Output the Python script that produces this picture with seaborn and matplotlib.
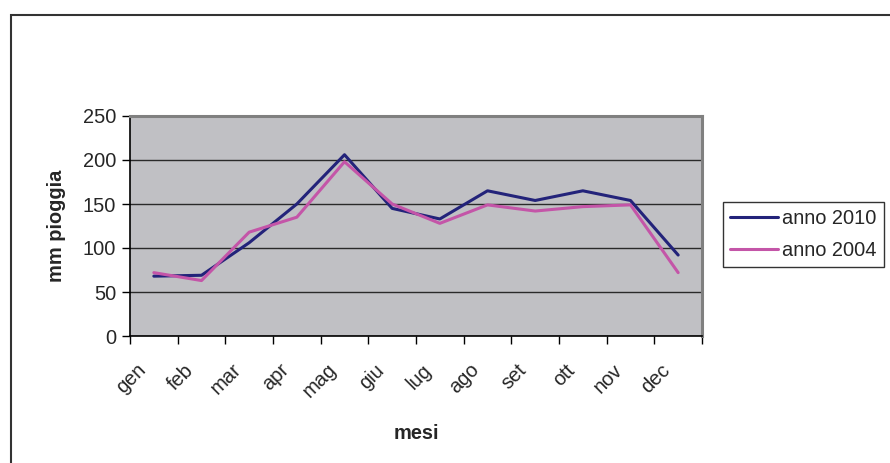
import matplotlib
matplotlib.use("Agg")
import matplotlib.pyplot as plt
from matplotlib.patches import Rectangle
from matplotlib.ticker import FixedLocator, NullFormatter
from matplotlib.transforms import ScaledTranslation
import seaborn as sns
import pandas as pd

mesi = ["gen", "feb", "mar", "apr", "mag", "giu", "lug", "ago", "set", "ott", "nov", "dec"]
anno_2010 = [68, 69, 106, 150, 206, 145, 133, 165, 154, 165, 154, 92]
anno_2004 = [72, 63, 118, 135, 198, 150, 128, 149, 142, 147, 149, 72]
serie = ["anno 2010", "anno 2004"]
colori = ["#23237A", "#C455A8"]

df = pd.DataFrame({
    "mese": mesi * 2,
    "pioggia": anno_2010 + anno_2004,
    "serie": [serie[0]] * len(mesi) + [serie[1]] * len(mesi),
})

sns.set_style("white")
plt.rcParams["font.family"] = ["Liberation Sans", "DejaVu Sans"]

W, H = 890, 463
fig = plt.figure(figsize=(W / 100, H / 100), dpi=100)
ax = fig.add_axes([130 / W, (H - 336) / H, (702 - 130) / W, (336 - 116) / H])
ax.set_facecolor("#C0C0C4")

sns.lineplot(data=df, x="mese", y="pioggia", hue="serie", hue_order=serie,
             palette=colori, linewidth=2.2, ax=ax, sort=False, legend=True)

ax.set_xlim(-0.5, len(mesi) - 0.5)
ax.set_ylim(0, 250)
ax.set_yticks([0, 50, 100, 150, 200, 250])
ax.yaxis.grid(True, color="#2a2a2a", linewidth=1.0)
ax.xaxis.grid(False)
ax.set_axisbelow(True)

ax.set_xticks(range(len(mesi)))
ax.set_xticklabels(mesi, rotation=45, ha="right", rotation_mode="anchor", fontsize=14.4)
ax.tick_params(axis="x", which="major", length=0, pad=17.5)
shift = ScaledTranslation(-18 / 100, 0, fig.dpi_scale_trans)
for lab in ax.get_xticklabels():
    lab.set_transform(lab.get_transform() + shift)
ax.xaxis.set_minor_locator(FixedLocator([i - 0.5 for i in range(len(mesi) + 1)]))
ax.xaxis.set_minor_formatter(NullFormatter())
ax.tick_params(axis="x", which="minor", length=6, width=1, color="black", direction="out", bottom=True)
ax.tick_params(axis="y", length=6, width=1, color="black", direction="out", left=True,
               labelsize=14.4, pad=4)

for s in ["left", "bottom"]:
    ax.spines[s].set_color("black")
    ax.spines[s].set_linewidth(1.2)
for s in ["top", "right"]:
    ax.spines[s].set_color("#808080")
    ax.spines[s].set_linewidth(2.2)

ax.set_xlabel("mesi", fontsize=14.4, fontweight="bold", labelpad=16)
ax.set_ylabel("mm pioggia", fontsize=14.4, fontweight="bold", labelpad=12)

leg = ax.legend(loc="center left", bbox_to_anchor=(723 / W, 1 - 234 / H),
                bbox_transform=fig.transFigure, frameon=True, fancybox=False,
                fontsize=14.4, handlelength=2.4, handletextpad=0.2,
                borderpad=0.35, labelspacing=0.65, borderaxespad=0)
leg.get_frame().set_edgecolor("black")
leg.get_frame().set_linewidth(1.0)
for h in leg.get_lines():
    h.set_linewidth(2.2)

fig.patches.append(Rectangle((10.5 / W, -0.05), 1.1, 1 - 15 / H + 0.05,
                             transform=fig.transFigure, fill=False,
                             edgecolor="#333333", linewidth=1.5, clip_on=False))

fig.savefig("out.png", dpi=100)
